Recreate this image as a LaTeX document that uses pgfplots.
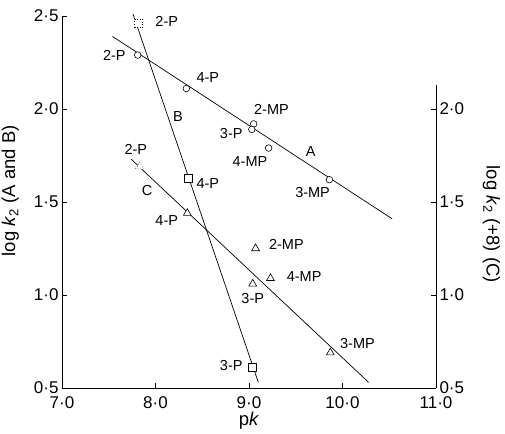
\documentclass[border=0pt]{standalone}
\usepackage{fontspec}
\setmainfont{Liberation Sans}
\usepackage{pgfplots}
\pgfplotsset{compat=1.18}
\newcommand{\tfont}{\fontsize{17}{19}\selectfont}
\newcommand{\afont}{\fontsize{18.5}{20}\selectfont}
\newcommand{\lfont}{\fontsize{14.5}{16}\selectfont}
\begin{document}
\begin{tikzpicture}
\useasboundingbox (-62pt,-45pt) rectangle (443pt,388pt);
\begin{axis}[
  at={(0,0)}, anchor=south west,
  scale only axis, width=374pt, height=372pt,
  xmin=7, xmax=11, ymin=0.5, ymax=2.5,
  axis x line*=bottom, axis y line*=left,
  axis line style={line width=0.8pt},
  tick align=inside, major tick length=5pt,
  tick style={line width=0.8pt, black},
  xtick={7,8,9,10,11}, xticklabels={7·0,8·0,9·0,10·0,11·0},
  ytick={0.5,1,1.5,2,2.5}, yticklabels={0·5,1·0,1·5,2·0,2·5},
  ticklabel style={font=\tfont},
  xticklabel style={yshift=-5.5pt},
  xlabel={p\textit{k}}, ylabel={log \textit{k}\textsubscript{2} (A and B)},
  xlabel style={yshift=3.5pt, font=\afont},
  ylabel style={at={(axis description cs:-0.138,0.53)}, anchor=center, font=\afont},
  clip=false,
]
% line A and circles
\addplot[black, line width=0.7pt] coordinates {(7.54,2.39) (10.53,1.41)};
\addplot[only marks, mark=*, mark size=3.3pt, mark options={fill=white, draw=black, line width=0.6pt}]
  coordinates {(7.81,2.29) (8.33,2.11) (9.05,1.92) (9.03,1.89) (9.21,1.79) (9.86,1.62)};
% line B and squares
\addplot[black, line width=0.7pt] coordinates {(7.76,2.51) (9.10,0.53)};
\addplot[only marks, mark=square*, mark size=4pt, mark options={fill=white, draw=black, line width=0.6pt}]
  coordinates {(8.35,1.63) (9.03,0.61)};
\addplot[only marks, mark=square*, mark size=4pt, mark options={fill=white, draw=black, line width=0.6pt, dotted}]
  coordinates {(7.82,2.46)};
% line C and triangles
\addplot[black, line width=0.7pt] coordinates {(7.74,1.73) (10.28,0.53)};
\addplot[only marks, mark=triangle*, mark size=4.5pt, mark options={fill=white, draw=black, line width=0.6pt}]
  coordinates {(8.34,1.44) (9.07,1.25) (9.04,1.06) (9.23,1.09) (9.87,0.69)};
\addplot[only marks, mark=triangle*, mark size=4.5pt, mark options={fill=white, draw=black, line width=0.6pt, dotted}]
  coordinates {(7.83,1.69)};
% labels A
\node[font=\lfont] at (axis cs:7.56,2.29) {2-P};
\node[font=\lfont] at (axis cs:8.56,2.17) {4-P};
\node[font=\lfont] at (axis cs:9.24,2.00) {2-MP};
\node[font=\lfont] at (axis cs:8.81,1.87) {3-P};
\node[font=\lfont] at (axis cs:9.01,1.72) {4-MP};
\node[font=\lfont] at (axis cs:9.68,1.55) {3-MP};
\node[font=\lfont] at (axis cs:9.66,1.77) {A};
% labels B
\node[font=\lfont] at (axis cs:8.12,2.47) {2-P};
\node[font=\lfont] at (axis cs:8.56,1.60) {4-P};
\node[font=\lfont] at (axis cs:8.81,0.62) {3-P};
\node[font=\lfont] at (axis cs:8.24,1.96) {B};
% labels C
\node[font=\lfont] at (axis cs:7.79,1.78) {2-P};
\node[font=\lfont] at (axis cs:8.12,1.40) {4-P};
\node[font=\lfont] at (axis cs:9.40,1.27) {2-MP};
\node[font=\lfont] at (axis cs:9.04,0.98) {3-P};
\node[font=\lfont] at (axis cs:9.59,1.10) {4-MP};
\node[font=\lfont] at (axis cs:10.16,0.74) {3-MP};
\node[font=\lfont] at (axis cs:7.91,1.56) {C};
\end{axis}
\begin{axis}[
  at={(0,0)}, anchor=south west,
  scale only axis, width=374pt, height=303.2pt,
  xmin=7, xmax=11, ymin=0.5, ymax=2.13,
  axis x line=none, axis y line*=right,
  axis line style={line width=0.8pt},
  tick align=inside, major tick length=5pt,
  tick style={line width=0.8pt, black},
  ytick={0.5,1,1.5,2}, yticklabels={0·5,1·0,1·5,2·0},
  ticklabel style={font=\tfont},
  ylabel={log \textit{k}\textsubscript{2} (+8) (C)},
  ylabel style={at={(axis description cs:1.148,0.54)}, rotate=180, anchor=center, font=\afont},
]
\addplot[draw=none] coordinates {(7,1)};
\end{axis}
\end{tikzpicture}
\end{document}
